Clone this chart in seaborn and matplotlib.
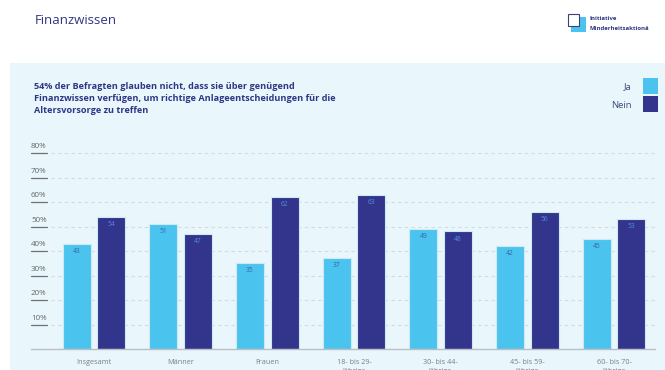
import matplotlib
matplotlib.use("Agg")
import matplotlib.pyplot as plt
import matplotlib.patches as mpatches
import matplotlib.transforms as mtransforms
import seaborn as sns
import pandas as pd

categories = ["Insgesamt", "Männer", "Frauen", "18- bis 29-\nJährige",
              "30- bis 44-\nJährige", "45- bis 59-\nJährige", "60- bis 70-\nJährige"]
ja = [43, 51, 35, 37, 49, 42, 45]
nein = [54, 47, 62, 63, 48, 56, 53]
series = ["Ja", "Nein"]
yticks = [10, 20, 30, 40, 50, 60, 70, 80]

title = "Finanzwissen"
subtitle = ("54% der Befragten glauben nicht, dass sie über genügend\n"
            "Finanzwissen verfügen, um richtige Anlageentscheidungen für die\n"
            "Altersvorsorge zu treffen")

df = pd.DataFrame({
    "Kategorie": categories * 2,
    "Antwort": ["Ja"] * len(categories) + ["Nein"] * len(categories),
    "Wert": ja + nein,
})

C_JA = "#4bc3ef"
C_NEIN = "#33348c"
DARK = "#2e3785"
PANEL = "#e9f6fb"

sns.set_theme(style="white")
plt.rcParams["font.family"] = ["Open Sans", "DejaVu Sans"]

W, H = 665, 370
fig = plt.figure(figsize=(W / 100, H / 100), dpi=100)
fig.patch.set_facecolor("white")

# panel background
fig.patches.append(mpatches.Rectangle((10 / W, 0), 1, (H - 63) / H,
                                      transform=fig.transFigure,
                                      facecolor=PANEL, edgecolor="none", zorder=-5))

ax_l, ax_r = 50.7, 657.3
y0, y80 = 349, 153
ax = fig.add_axes([ax_l / W, (H - y0) / H, (ax_r - ax_l) / W, (y0 - y80) / H])
ax.set_facecolor("none")
ax.set_zorder(2)

sns.barplot(data=df, x="Kategorie", y="Wert", hue="Antwort", order=categories,
            hue_order=series, palette=[C_JA, C_NEIN], saturation=1,
            width=0.8, gap=0.2, edgecolor="#cfeaf7", linewidth=0.8, ax=ax,
            legend=False, zorder=3)

ax.set_ylim(0, 80)
ax.set_xlim(-0.5, len(categories) - 0.5)
ax.set_xlabel("")
ax.set_ylabel("")
ax.set_yticks([])
for s in ax.spines.values():
    s.set_visible(False)

ax.tick_params(axis="x", length=0, pad=7, labelsize=5.2, colors="#7a7f86")
for lbl in ax.get_xticklabels():
    lbl.set_linespacing(1.5)
    lbl.set_verticalalignment("top")

# grid lines and y labels
trans = mtransforms.blended_transform_factory(ax.transAxes, ax.transData)
for v in yticks:
    ax.plot([0, 0.997], [v, v], transform=trans, color="#d3dbdf", lw=0.8,
            ls=(0, (3, 3)), zorder=1, clip_on=False)
    ax.plot([-0.0325, -0.0058], [v, v], transform=trans, color="#6d7175",
            lw=0.9, zorder=2, clip_on=False)
    ax.text(-0.0325, v + 1.2, f"{v}%", transform=trans, ha="left", va="bottom",
            fontsize=5.8, color="#62666b")
ax.plot([-0.0325, 0.997], [0, 0], transform=trans, color="#b9bfc3", lw=1.0,
        zorder=4, clip_on=False)

# value labels
for cont, col in zip(ax.containers, ["#3a63a8", "#4e8fe0"]):
    ax.bar_label(cont, labels=[f"{int(b.get_height())}" for b in cont],
                 padding=-8, fontsize=4.8, color=col, zorder=5)

# title
fig.text(35 / W, 1 - 20 / H, title, fontsize=9.5, color=DARK, ha="left", va="center")
fig.text(34 / W, 1 - 82 / H, subtitle, fontsize=6.6, color=DARK, ha="left",
         va="top", fontweight="bold", linespacing=1.45)

# legend
for i, (name, col) in enumerate(zip(series, [C_JA, C_NEIN])):
    ytop = 78 + i * 18
    fig.patches.append(mpatches.Rectangle((643 / W, 1 - (ytop + 16) / H), 15 / W, 16 / H,
                                          transform=fig.transFigure, facecolor=col,
                                          edgecolor="none", zorder=3))
    fig.text(632 / W, 1 - (ytop + 9) / H, name, fontsize=6.8, color="#3b4a7a",
             ha="right", va="center")

# logo
fig.patches.append(mpatches.Rectangle((571 / W, 1 - 32 / H), 15 / W, 15 / H,
                                      transform=fig.transFigure, facecolor=C_JA,
                                      edgecolor="none", zorder=3))
fig.patches.append(mpatches.Rectangle((568 / W, 1 - 26 / H), 11 / W, 12 / H,
                                      transform=fig.transFigure, facecolor="white",
                                      edgecolor="#3b3f7a", lw=0.8, zorder=4))
fig.text(589 / W, 1 - 18 / H, "Initiative", fontsize=4.3, color=DARK,
         fontweight="bold", ha="left", va="center")
fig.text(589 / W, 1 - 28 / H, "Minderheitsaktionä", fontsize=4.3, color=DARK,
         fontweight="bold", ha="left", va="center")

fig.savefig("out.png", dpi=100)
